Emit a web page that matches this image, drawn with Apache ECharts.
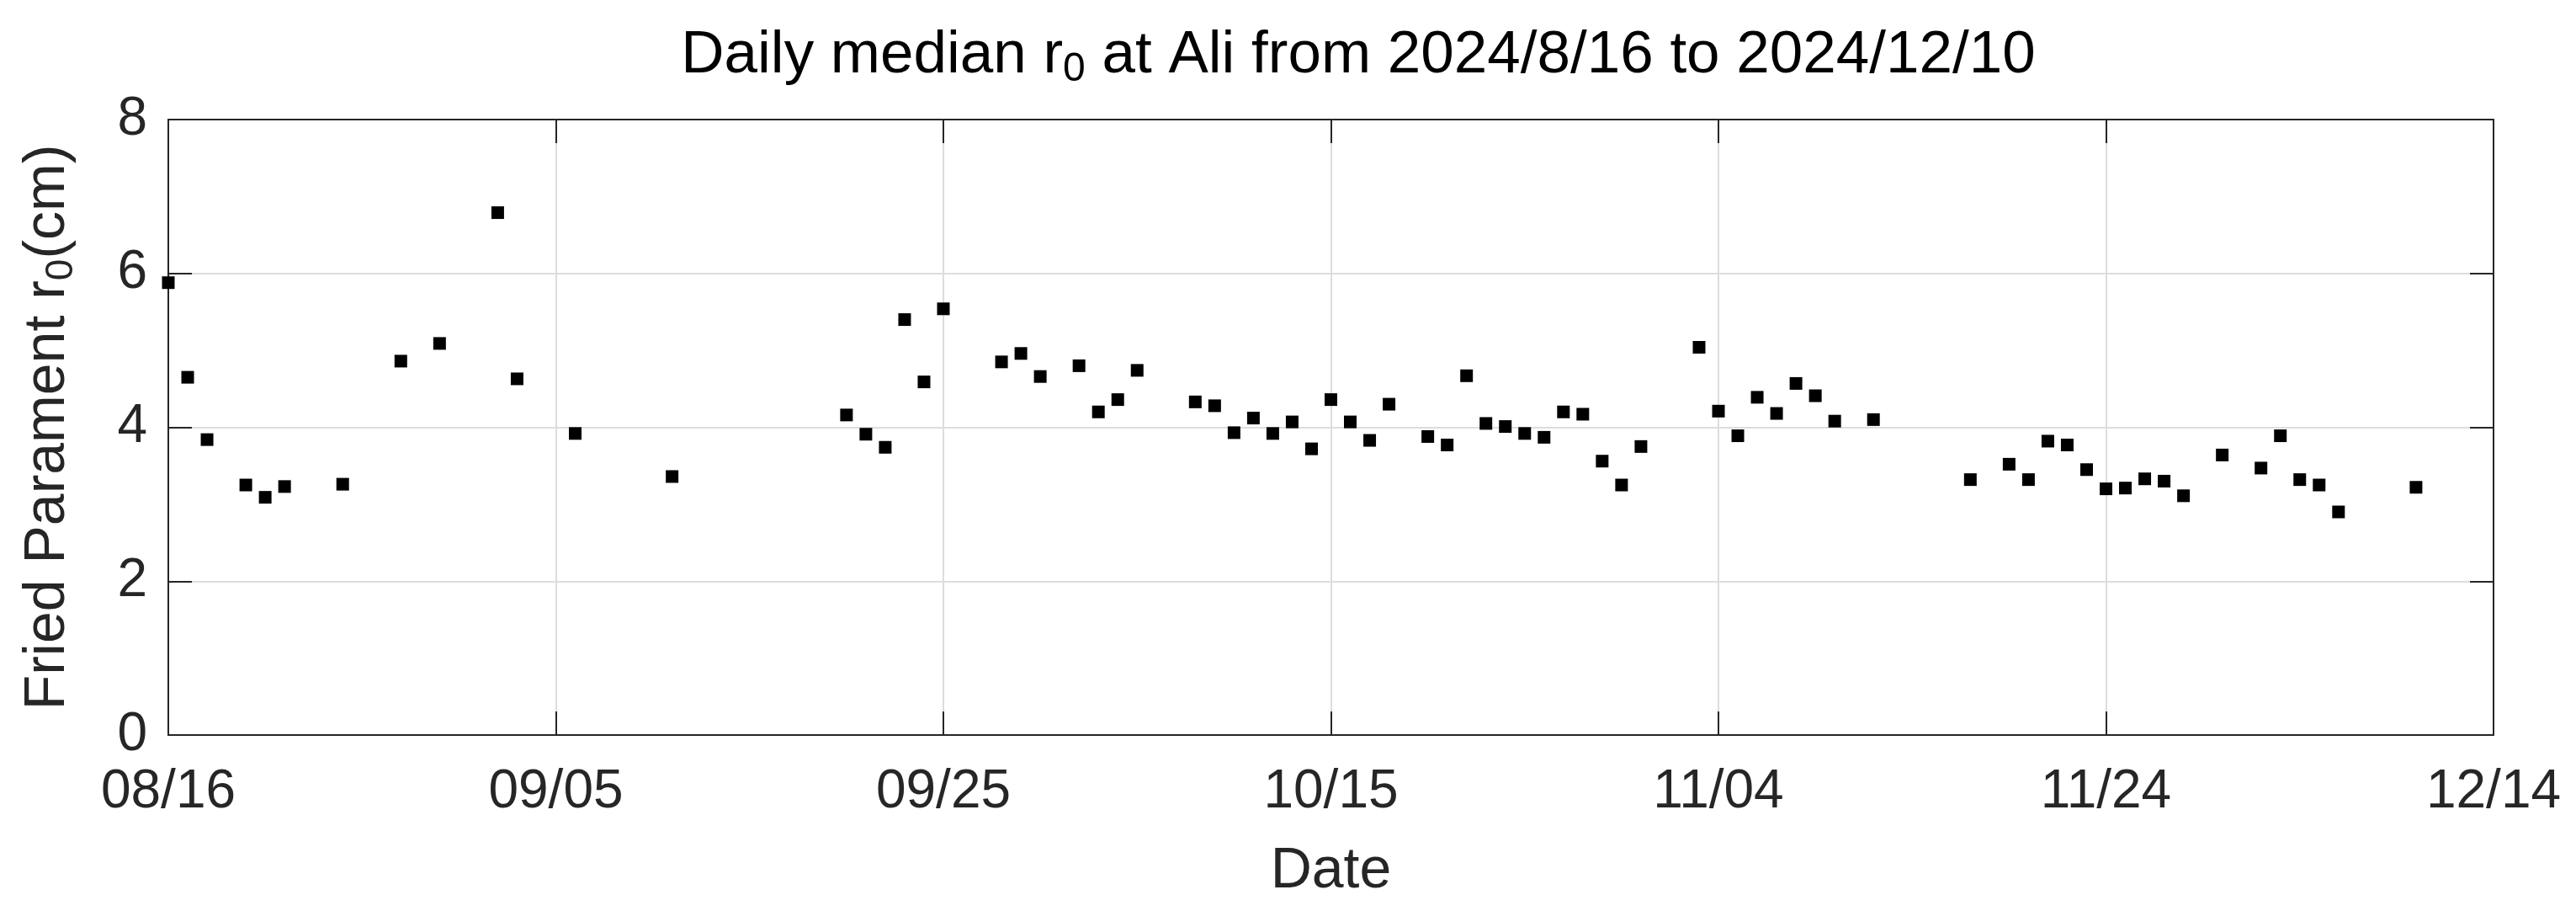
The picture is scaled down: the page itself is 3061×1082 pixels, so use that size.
<!DOCTYPE html>
<html>
<head>
<meta charset="utf-8">
<script src="https://cdn.jsdelivr.net/npm/echarts@6/dist/echarts.min.js"></script>
<style>
html,body{margin:0;padding:0;background:#fff;}
#chart{width:3061px;height:1082px;}
</style>
</head>
<body>
<div id="chart"></div>
<script>
const startDate = '2024-08-16';
const xTickLabels = ['08/16','09/05','09/25','10/15','11/04','11/24','12/14'];
const yTickLabels = ['0','2','4','6','8'];
const dates = [
 '2024-08-16','2024-08-17','2024-08-18','2024-08-20','2024-08-21','2024-08-22','2024-08-25',
 '2024-08-28','2024-08-30','2024-09-02','2024-09-03','2024-09-06','2024-09-11',
 '2024-09-20','2024-09-21','2024-09-22','2024-09-23','2024-09-24','2024-09-25',
 '2024-09-28','2024-09-29','2024-09-30','2024-10-02','2024-10-03','2024-10-04','2024-10-05',
 '2024-10-08','2024-10-09','2024-10-10','2024-10-11','2024-10-12','2024-10-13','2024-10-14',
 '2024-10-15','2024-10-16','2024-10-17','2024-10-18','2024-10-20','2024-10-21','2024-10-22',
 '2024-10-23','2024-10-24','2024-10-25','2024-10-26','2024-10-27','2024-10-28','2024-10-29',
 '2024-10-30','2024-10-31','2024-11-03','2024-11-04','2024-11-05','2024-11-06','2024-11-07',
 '2024-11-08','2024-11-09','2024-11-10','2024-11-12','2024-11-17','2024-11-19','2024-11-20',
 '2024-11-21','2024-11-22','2024-11-23','2024-11-24','2024-11-25','2024-11-26','2024-11-27',
 '2024-11-28','2024-11-30','2024-12-02','2024-12-03','2024-12-04','2024-12-05','2024-12-06',
 '2024-12-10'
];
const r0 = [
 5.88,4.65,3.84,3.25,3.09,3.23,3.26,
 4.86,5.09,6.79,4.63,3.92,3.36,
 4.16,3.91,3.74,5.40,4.59,5.54,
 4.85,4.96,4.66,4.80,4.20,4.36,4.74,
 4.33,4.28,3.93,4.12,3.92,4.07,3.72,
 4.36,4.07,3.83,4.30,3.88,3.77,4.67,
 4.05,4.01,3.92,3.87,4.20,4.17,3.56,
 3.25,3.75,5.04,4.21,3.89,4.39,4.18,
 4.57,4.41,4.08,4.10,3.32,3.52,3.32,
 3.82,3.77,3.45,3.20,3.21,3.33,3.30,
 3.11,3.64,3.47,3.89,3.32,3.25,2.90,
 3.22
];

const DAY = 86400000;
const t0 = Date.parse(startDate + 'T00:00:00Z');
const points = dates.map((d, i) => [(Date.parse(d + 'T00:00:00Z') - t0) / DAY, r0[i]]);

const FONT = 'Liberation Sans';
const TXT = '#262626';
const chart = echarts.init(document.getElementById('chart'), null, {renderer: 'canvas'});

const axisLineStyle = {show: true, onZero: false, lineStyle: {color: TXT, width: 2}};
const tickStyle = {show: true, inside: true, length: 28, lineStyle: {color: TXT, width: 2}};

chart.setOption({
  backgroundColor: '#ffffff',
  animation: false,
  title: {
    text: 'Daily median r{sub|0} at Ali from 2024/8/16 to 2024/12/10',
    left: 1609,
    textAlign: 'center',
    top: 20,
    textStyle: {
      fontFamily: FONT, fontSize: 71, fontWeight: 'normal', color: '#000',
      rich: {sub: {fontFamily: FONT, fontSize: 48, color: '#000', padding: [34, 0, 0, 0]}}
    }
  },
  grid: {left: 200, right: 98, top: 142, bottom: 209, containLabel: false},
  xAxis: [{
    type: 'value', position: 'bottom', min: 0, max: 120, interval: 20,
    name: 'Date', nameLocation: 'middle', nameGap: 128,
    nameTextStyle: {fontFamily: FONT, fontSize: 68, color: TXT},
    axisLine: axisLineStyle, axisTick: tickStyle,
    axisLabel: {fontFamily: FONT, fontSize: 64, color: TXT, margin: 36,
      formatter: v => xTickLabels[Math.round(v / 20)] || ''},
    splitLine: {show: true, lineStyle: {color: '#dddddd', width: 2}}
  }, {
    type: 'value', position: 'top', min: 0, max: 120, interval: 20,
    axisLine: axisLineStyle, axisTick: tickStyle,
    axisLabel: {show: false}, splitLine: {show: false}
  }],
  yAxis: [{
    type: 'value', position: 'left', min: 0, max: 8, interval: 2,
    name: 'Fried Parament r{sub|0}(cm)', nameLocation: 'middle', nameGap: 104, nameRotate: 90,
    nameTextStyle: {fontFamily: FONT, fontSize: 68, color: TXT,
      rich: {sub: {fontFamily: FONT, fontSize: 46, color: TXT, padding: [32, 0, 0, 0]}}},
    axisLine: axisLineStyle, axisTick: tickStyle,
    axisLabel: {fontFamily: FONT, fontSize: 64, color: TXT, margin: 25,
      formatter: v => yTickLabels[Math.round(v / 2)] || ''},
    splitLine: {show: true, lineStyle: {color: '#dddddd', width: 2}}
  }, {
    type: 'value', position: 'right', min: 0, max: 8, interval: 2,
    axisLine: axisLineStyle, axisTick: tickStyle,
    axisLabel: {show: false}, splitLine: {show: false}
  }],
  series: [{
    type: 'scatter',
    xAxisIndex: 0, yAxisIndex: 0,
    data: points,
    symbol: 'rect',
    symbolSize: 15,
    clip: false,
    itemStyle: {color: '#000000', opacity: 1},
    z: 5
  }]
});
</script>
</body>
</html>
